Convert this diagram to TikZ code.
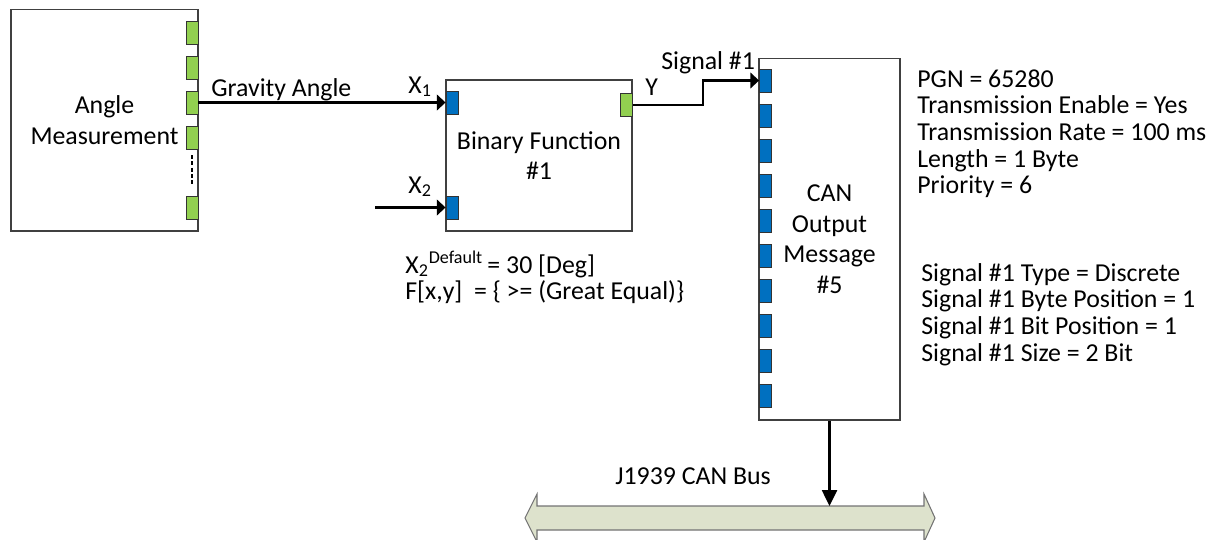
\documentclass[tikz,border=0pt]{standalone}
\usepackage{fontspec}
\setmainfont{Carlito}
\usetikzlibrary{arrows.meta,calc}

\definecolor{portgreen}{HTML}{92D050}
\definecolor{portblue}{HTML}{0070C0}
\definecolor{busfill}{HTML}{DDE2CC}

\begin{document}
\begin{tikzpicture}[x=0.02cm,y=-0.02cm,
	every node/.style={font=\fontsize{14.7}{15.2}\selectfont},
	block/.style={draw=black!75,line width=0.6pt,fill=white,align=center,inner sep=0pt,
		font=\fontsize{14.7}{17.4}\selectfont},
	port/.style={draw=black!80,line width=0.5pt,minimum width=0.24cm,minimum height=0.46cm,inner sep=0pt},
	gport/.style={port,fill=portgreen},
	bport/.style={port,fill=portblue},
	txt/.style={anchor=base west,inner sep=0pt},
	sig/.style={line width=1.2pt,-{Triangle[length=5pt,width=9pt]}},
	busdrop/.style={line width=1.2pt,-{Triangle[length=9pt,width=8.5pt]}}]
	\useasboundingbox (0,0) rectangle (1213,539);
	
	\node[block,minimum width=3.74cm,minimum height=4.44cm] (am) at (104.5,120) {Angle\\Measurement};
	\node[block,minimum width=3.72cm,minimum height=3.02cm] (bf) at (539,155.5) {Binary Function\\\#1};
	\node[block,minimum width=2.82cm,minimum height=7.24cm] (can) at (829.5,239) {CAN\\Output\\Message\\\#5};
	
	% ports
	\foreach \i/\y in {1/32.5,2/67.5,3/102.5,4/137.5,5/207.5}
		\node[gport] (am\i) at (192,\y) {};
	\draw[line width=1.6pt,dash pattern=on 2.2pt off 1.4pt] (192,155) -- (192,185);
	\node[bport] (x1) at (452,102.5) {};
	\node[bport] (x2) at (452,207.5) {};
	\node[gport] (yout) at (626.5,105) {};
	\foreach \i in {1,...,10}
		\node[bport] (c\i) at (765.5,{80.5+35.1*(\i-1)}) {};
	
	% connectors
	\coordinate (x2in) at (375,207.5);
	\coordinate (bustop) at (829.5,506);
	\draw[sig] (am3.east) -- (x1.west);
	\draw[sig] (x2in) -- (x2.west);
	\draw[sig] (yout.east) -- ++(70,0) |- (c1.west);
	
	\draw[fill=busfill,draw=black!55,line width=0.6pt] (525,518) -- (537,494) -- (537,506) -- (924,506)
		-- (924,494) -- (935,518) -- (924,542) -- (924,530) -- (537,530) -- (537,542) -- cycle;
	\draw[busdrop] (can.south) -- (bustop);
	
	% labels
	\node[txt] (ga) at (211,96) {Gravity Angle};
	\node[txt] (lx1) at (408,93) {X\textsubscript{1}};
	\node[txt] (lx2) at (408,193) {X\textsubscript{2}};
	\node[txt] (ly) at (645,95) {Y};
	\node[txt] (lsig) at (661,69) {Signal \#1};
	\node[txt] (par1) at (405,273) {X\textsubscript{2}\textsuperscript{Default}\,= 30 [Deg]};
	\node[txt] (par2) at (405,299) {F[x,y] \ = \{ >= (Great Equal)\}};
	\node[txt] (lbus) at (615,484) {J1939 CAN Bus};
	
	\foreach \t [count=\i] in {PGN = 65280,Transmission Enable = Yes,Transmission Rate = 100 ms,Length = 1 Byte,Priority = 6}
		\node[txt] (msg\i) at (917,{87+26.7*(\i-1)}) {\t};
	\foreach \t [count=\i] in {Signal \#1 Type = Discrete,Signal \#1 Byte Position = 1,Signal \#1 Bit Position = 1,Signal \#1 Size = 2 Bit}
		\node[txt] (sg\i) at (921,{281+26.7*(\i-1)}) {\t};
\end{tikzpicture}
\end{document}
